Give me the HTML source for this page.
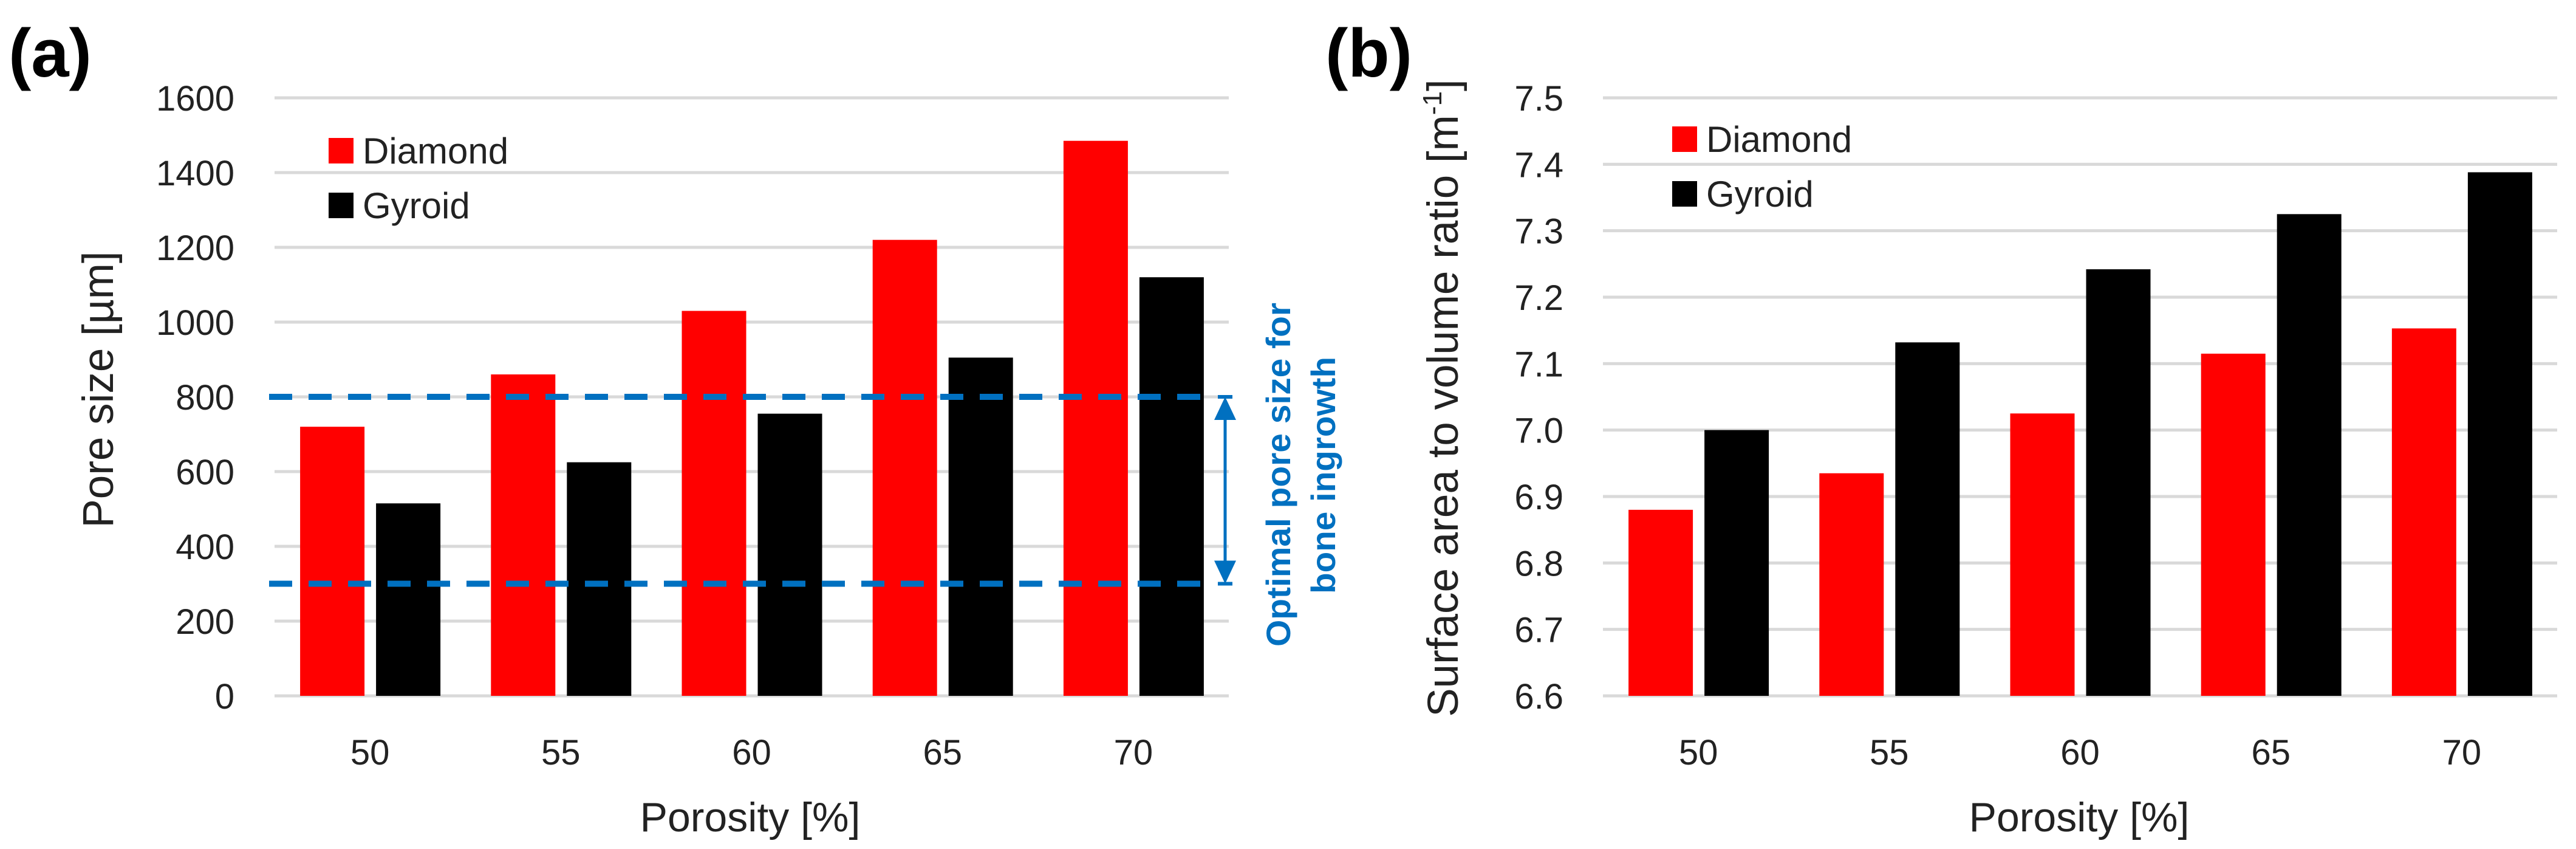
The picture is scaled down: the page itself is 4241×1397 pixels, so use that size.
<!DOCTYPE html>
<html><head><meta charset="utf-8"><style>
html,body{margin:0;padding:0;background:#fff}
svg{display:block}
text{font-family:"Liberation Sans",sans-serif}
</style></head><body>
<svg id="fig" width="4241" height="1397" viewBox="0 0 4241 1397" xmlns="http://www.w3.org/2000/svg">
<g id="a"></g>
<g id="b"></g>
</svg>
<script>
const categories = ["50","55","60","65","70"];
const poreDiamond = [720,860,1030,1220,1485];
const poreGyroid = [515,625,755,905,1120];
const poreTicks = [0,200,400,600,800,1000,1200,1400,1600];
const optimalRange = [300,800];
const savDiamond = [6.88,6.935,7.025,7.115,7.153];
const savGyroid = [7.0,7.132,7.242,7.325,7.388];
const savTicks = ["6.6","6.7","6.8","6.9","7.0","7.1","7.2","7.3","7.4","7.5"];

const NS="http://www.w3.org/2000/svg";
function mk(parent,tag,attrs,txt){const e=document.createElementNS(NS,tag);for(const k in attrs)e.setAttribute(k,attrs[k]);if(txt!==undefined)e.textContent=txt;parent.appendChild(e);return e;}

function drawPanel(g,cfg){
  const top=161,bot=1145;
  const y=v=>bot-(v-cfg.min)/(cfg.max-cfg.min)*(bot-top);
  const cw=(cfg.x1-cfg.x0)/categories.length;
  const x=i=>cfg.x0+cw*(i+0.5);
  cfg.ticks.forEach(t=>{
    const v=parseFloat(t);
    const l=mk(g,'line',{x1:cfg.x0,x2:cfg.x1,y1:y(v),y2:y(v),stroke:'#d9d9d9','stroke-width':5});
    
    
    const tx=mk(g,'text',{x:cfg.tickX,y:y(v)+21,'text-anchor':'end','font-size':58,fill:'#222'},String(t));
    
    
  });
  categories.forEach((c,i)=>{
    const r=mk(g,'rect',{x:x(i)-115,y:y(cfg.d[i]),width:106,height:bot-y(cfg.d[i]),fill:'#ff0000'});
    
    
    const k=mk(g,'rect',{x:x(i)+10,y:y(cfg.g[i]),width:106,height:bot-y(cfg.g[i]),fill:'#000'});
    
    
    const t=mk(g,'text',{x:x(i),y:1258,'text-anchor':'middle','font-size':58,fill:'#222'},c);
    
    
  });
  const xt=mk(g,'text',{x:cfg.xTitle,y:1368,'text-anchor':'middle','font-size':68,fill:'#222'},'Porosity [%]');
  
  
  const yt=mk(g,'text',{x:0,y:0,'text-anchor':'middle','font-size':71,fill:'#222',transform:'translate('+cfg.yTitleX+','+cfg.yTitleY+') rotate(-90)'});
  
  
  yt.innerHTML=cfg.yTitle;
  const lg=mk(g,'g',{});
  
  
  const s1=mk(lg,'rect',{x:cfg.legX,y:cfg.legY,width:41,height:42,fill:'#ff0000'});
  
  
  const t1=mk(lg,'text',{x:cfg.legX+56,y:cfg.legY+42,'font-size':60,fill:'#222'},'Diamond');
  
  
  const s2=mk(lg,'rect',{x:cfg.legX,y:cfg.legY+90,width:41,height:42,fill:'#000'});
  
  
  const t2=mk(lg,'text',{x:cfg.legX+56,y:cfg.legY+132,'font-size':60,fill:'#222'},'Gyroid');
  
  
  const pl=mk(g,'text',{x:cfg.labX,y:126,'font-size':112,'font-weight':'bold',fill:'#000'},cfg.label);
  
  
  return y;
}

const ga=document.getElementById('a');
const ya=drawPanel(ga,{min:0,max:1600,x0:452,x1:2023,ticks:poreTicks,d:poreDiamond,g:poreGyroid,tickX:386,xTitle:1235,yTitleX:186,yTitleY:641,yTitle:'Pore size [µm]',legX:541,legY:227,labX:14,label:'(a)'});
optimalRange.forEach(v=>{
  const l=mk(ga,'line',{x1:443,x2:1985,y1:ya(v),y2:ya(v),stroke:'#0070c0','stroke-width':10,'stroke-dasharray':'38 27'});
  
  
});
const ar=mk(ga,'g',{fill:'#0070c0'});


mk(ar,'line',{x1:2017,x2:2017,y1:ya(optimalRange[1])+30,y2:ya(optimalRange[0])-30,stroke:'#0070c0','stroke-width':5});
mk(ar,'polygon',{points:(2017)+','+ya(optimalRange[1])+' '+(1999)+','+(ya(optimalRange[1])+38)+' '+(2035)+','+(ya(optimalRange[1])+38)});
mk(ar,'polygon',{points:(2017)+','+ya(optimalRange[0])+' '+(1999)+','+(ya(optimalRange[0])-38)+' '+(2035)+','+(ya(optimalRange[0])-38)});
mk(ar,'rect',{x:2005,y:ya(optimalRange[1])-3,width:24,height:6});
mk(ar,'rect',{x:2005,y:ya(optimalRange[0])-3,width:24,height:6});
const o1=mk(ga,'text',{x:0,y:0,'text-anchor':'middle','font-size':56,'font-weight':'bold',fill:'#0070c0',textLength:566,lengthAdjust:'spacingAndGlyphs',transform:'translate(2124,781) rotate(-90)'},'Optimal pore size for');


const o2=mk(ga,'text',{x:0,y:0,'text-anchor':'middle','font-size':56,'font-weight':'bold',fill:'#0070c0',textLength:390,lengthAdjust:'spacingAndGlyphs',transform:'translate(2198,782) rotate(-90)'},'bone ingrowth');



const gb=document.getElementById('b');
drawPanel(gb,{min:6.6,max:7.5,x0:2639,x1:4210,ticks:savTicks,d:savDiamond,g:savGyroid,tickX:2574,xTitle:3423,yTitleX:2400,yTitleY:655,yTitle:'Surface area to volume ratio [m<tspan font-size="44" dy="-27">-1</tspan><tspan dy="27">]</tspan>',legX:2753,legY:208,labX:2182,label:'(b)'});
</script>
</body></html>
